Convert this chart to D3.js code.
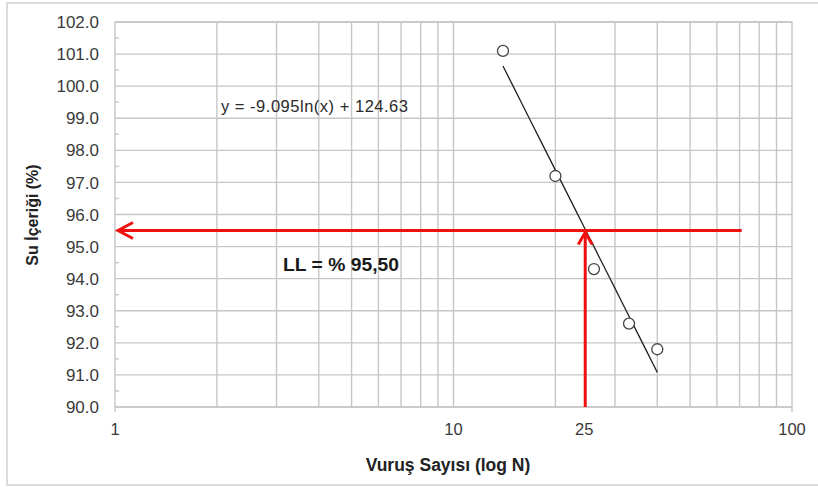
<!DOCTYPE html>
<html>
<head>
<meta charset="utf-8">
<script src="https://cdn.jsdelivr.net/npm/d3@7"></script>
<style>
  body { margin: 0; background: #fff; }
  svg { display: block; font-family: "Liberation Sans", Arial, sans-serif; }
</style>
</head>
<body>
<svg id="chart"></svg>
<script>
  // vuruş sayısı / su içeriği ölçümleri
  const blows = [14, 20, 26, 33, 40];
  const water = [101.1, 97.2, 94.3, 92.6, 91.8];

  const yTicks = [90, 91, 92, 93, 94, 95, 96, 97, 98, 99, 100, 101, 102];
  const xTickLabels = [1, 10, 25, 100];
  const xGrid = [2, 3, 4, 5, 6, 7, 8, 9, 10, 20, 30, 40, 50, 60, 70, 80, 90];

  // trend: y = -9.095ln(x) + 124.63
  const trendA = -9.095;
  const trendB = 124.63;
  const trendRange = [14, 40];

  const llValue = 95.5;
  const llBlows = 24.5;
  const llLineEnd = 71;

  const size = { width: 818, height: 487 };
  const margin = { top: 22, bottom: 80, left: 115, right: 26 };

  const svg = d3.select("#chart").attr("width", size.width).attr("height", size.height);

  // dış çerçeve
  svg
    .append("rect")
    .attr("x", 7)
    .attr("y", 3)
    .attr("width", size.width + 10)
    .attr("height", 482)
    .attr("fill", "none")
    .attr("stroke", "#cfcfcf")
    .attr("stroke-width", 1.5);

  const x = d3
    .scaleLog()
    .domain([1, 100])
    .range([margin.left, size.width - margin.right]);

  const y = d3
    .scaleLinear()
    .domain([90, 102])
    .range([size.height - margin.bottom, margin.top]);

  const grid = svg.append("g").attr("stroke", "#c6c6c6").attr("stroke-width", 1.4);

  xGrid.forEach((v) => {
    grid
      .append("line")
      .attr("x1", x(v))
      .attr("x2", x(v))
      .attr("y1", y(90))
      .attr("y2", y(102));
  });

  yTicks.forEach((v) => {
    grid
      .append("line")
      .attr("x1", x(1))
      .attr("x2", x(100))
      .attr("y1", y(v))
      .attr("y2", y(v));
  });

  grid
    .append("rect")
    .attr("x", x(1))
    .attr("y", y(102))
    .attr("width", x(100) - x(1))
    .attr("height", y(90) - y(102))
    .attr("fill", "none");

  // y ekseni ara çentikleri
  yTicks.slice(0, -1).forEach((v) => {
    grid
      .append("line")
      .attr("x1", x(1))
      .attr("x2", x(1) + 4)
      .attr("y1", y(v + 0.5))
      .attr("y2", y(v + 0.5));
  });

  // x ekseni çentikleri
  [1, 100].forEach((v) => {
    grid
      .append("line")
      .attr("x1", x(v))
      .attr("x2", x(v))
      .attr("y1", y(90))
      .attr("y2", y(90) + 5);
  });

  svg
    .append("g")
    .selectAll("text")
    .data(yTicks)
    .join("text")
    .attr("x", 99)
    .attr("y", (d) => y(d))
    .attr("dy", "0.36em")
    .attr("text-anchor", "end")
    .attr("fill", "#3a3a3a")
    .style("font-size", "17px")
    .text((d) => d.toFixed(1));

  svg
    .append("g")
    .selectAll("text")
    .data(xTickLabels)
    .join("text")
    .attr("x", (d) => (d === 25 ? x(d) - 4 : x(d)))
    .attr("y", 435)
    .attr("text-anchor", "middle")
    .attr("fill", "#3a3a3a")
    .style("font-size", "16.5px")
    .text((d) => d);

  svg
    .append("text")
    .attr("x", 448)
    .attr("y", 471)
    .attr("text-anchor", "middle")
    .attr("fill", "#222")
    .style("font-size", "17.5px")
    .style("font-weight", "bold")
    .text("Vuruş Sayısı (log N)");

  svg
    .append("text")
    .attr("transform", "translate(38, 215) rotate(-90)")
    .attr("text-anchor", "middle")
    .attr("fill", "#222")
    .style("font-size", "16px")
    .style("font-weight", "bold")
    .text("Su İçeriği (%)");

  // trend çizgisi
  const trendPts = d3.range(trendRange[0], trendRange[1] + 0.5, 1).map((n) => [n, trendA * Math.log(n) + trendB]);
  svg
    .append("path")
    .datum(trendPts)
    .attr("d", d3.line().x((d) => x(d[0])).y((d) => y(d[1])))
    .attr("fill", "none")
    .attr("stroke", "#222")
    .attr("stroke-width", 1.3);

  svg
    .append("text")
    .attr("x", 221)
    .attr("y", 112)
    .attr("fill", "#2a2a2a")
    .attr("textLength", 187)
    .attr("lengthAdjust", "spacing")
    .style("font-size", "16.5px")
    .text(`y = ${trendA}ln(x) + ${trendB}`);

  // LL okları
  const red = "#f01010";
  const arrows = svg.append("g").attr("stroke", red).attr("stroke-width", 3).attr("fill", "none");

  arrows
    .append("line")
    .attr("x1", x(llLineEnd))
    .attr("x2", x(1) + 3)
    .attr("y1", y(llValue))
    .attr("y2", y(llValue));

  arrows
    .append("path")
    .attr("d", `M${x(1) + 18},${y(llValue) - 8} L${x(1) + 3},${y(llValue)} L${x(1) + 18},${y(llValue) + 8}`);

  arrows
    .append("line")
    .attr("x1", x(llBlows))
    .attr("x2", x(llBlows))
    .attr("y1", y(90))
    .attr("y2", y(llValue) + 2);

  arrows
    .append("path")
    .attr("d", `M${x(llBlows) - 7},${y(llValue) + 14} L${x(llBlows)},${y(llValue) + 2} L${x(llBlows) + 7},${y(llValue) + 14}`);

  svg
    .append("text")
    .attr("x", 283)
    .attr("y", 271)
    .attr("fill", "#1a1a1a")
    .attr("textLength", 116)
    .attr("lengthAdjust", "spacingAndGlyphs")
    .style("font-size", "19px")
    .style("font-weight", "bold")
    .text("LL = % 95,50");

  // ölçüm noktaları
  svg
    .append("g")
    .selectAll("circle")
    .data(blows)
    .join("circle")
    .attr("cx", (d) => x(d))
    .attr("cy", (d, i) => y(water[i]))
    .attr("r", 5.5)
    .attr("fill", "#fff")
    .attr("stroke", "#444")
    .attr("stroke-width", 1.3);
</script>
</body>
</html>
